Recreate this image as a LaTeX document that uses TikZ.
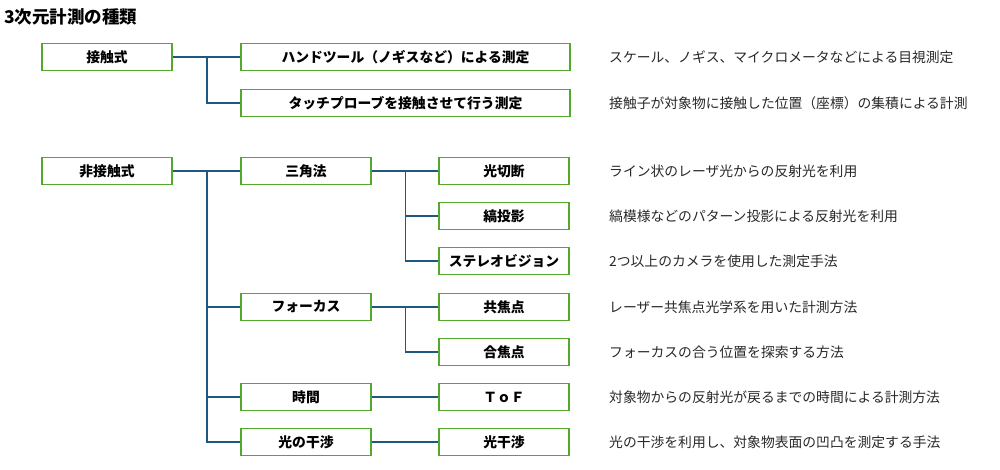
\documentclass[tikz,border=0pt]{standalone}
\usepackage{fontspec}
\setmainfont{Noto Sans CJK JP}
\usepackage{xcolor}
\definecolor{boxgreen}{RGB}{84,168,46}
\definecolor{linkblue}{RGB}{30,88,128}
\definecolor{desctext}{RGB}{40,40,40}

\begin{document}
\begin{tikzpicture}[x=1pt, y=-1pt,
    box/.style={draw=boxgreen, line width=1.4pt, fill=white, minimum width=130pt, minimum height=27pt, inner sep=0pt, font=\fontsize{13.8}{15}\selectfont\bfseries},
    widebox/.style={box, minimum width=329pt},
    desc/.style={anchor=west, inner sep=0pt, text=desctext, font=\fontsize{13.8}{15}\selectfont},
    link/.style={draw=linkblue, line width=1.3pt}]
    \useasboundingbox (0,0) rectangle (1000,470);
    % Title
    \node[anchor=west, inner sep=0pt, font=\fontsize{17.5}{19}\selectfont\bfseries] (title) at (4,17) {3次元計測の種類};
    % Nodes
    \node[box] (contact) at (107,57) {接触式};
    \node[widebox] (hand) at (405.5,57) {ハンドツール（ノギスなど）による測定};
    \node[widebox] (probe) at (405.5,103) {タッチプローブを接触させて行う測定};
    \node[box] (noncontact) at (107,171) {非接触式};
    \node[box] (triang) at (306,171) {三角法};
    \node[box] (focus) at (306,307) {フォーカス};
    \node[box] (tof) at (306,397) {時間};
    \node[box] (interf) at (306,442) {光の干渉};
    \node[box] (lightcut) at (504,171) {光切断};
    \node[box] (fringe) at (504,216) {縞投影};
    \node[box] (stereo) at (504,261) {ステレオビジョン};
    \node[box] (confocal) at (504,307) {共焦点};
    \node[box] (focusvar) at (504,352) {合焦点};
    \node[box] (tofsub) at (504,397) {ＴｏＦ};
    \node[box] (interfsub) at (504,442) {光干渉};
    % Descriptions
    \node[desc] (d1) at (609,57) {スケール、ノギス、マイクロメータなどによる目視測定};
    \node[desc] (d2) at (609,103) {接触子が対象物に接触した位置（座標）の集積による計測};
    \node[desc] (d3) at (609,171) {ライン状のレーザ光からの反射光を利用};
    \node[desc] (d4) at (609,216) {縞模様などのパターン投影による反射光を利用};
    \node[desc] (d5) at (609,261) {2つ以上のカメラを使用した測定手法};
    \node[desc] (d6) at (609,307) {レーザー共焦点光学系を用いた計測方法};
    \node[desc] (d7) at (609,352) {フォーカスの合う位置を探索する方法};
    \node[desc] (d8) at (609,397) {対象物からの反射光が戻るまでの時間による計測方法};
    \node[desc] (d9) at (609,442) {光の干渉を利用し、対象物表面の凹凸を測定する手法};
    % Junctions
    \coordinate (jcontact) at (207,57);
    \coordinate (jnon) at (207,171);
    \coordinate (jtri) at (405.5,171);
    \coordinate (jfocus) at (405.5,307);
    % Lines
    \draw[link] (contact) -- (hand);
    \draw[link] (jcontact) |- (probe.west);
    \draw[link] (noncontact) -- (triang);
    \draw[link] (jnon) |- (focus.west);
    \draw[link] (jnon) |- (tof.west);
    \draw[link] (jnon) |- (interf.west);
    \draw[link] (triang) -- (lightcut);
    \draw[link] (jtri) |- (fringe.west);
    \draw[link] (jtri) |- (stereo.west);
    \draw[link] (focus) -- (confocal);
    \draw[link] (jfocus) |- (focusvar.west);
    \draw[link] (tof) -- (tofsub);
    \draw[link] (interf) -- (interfsub);
\end{tikzpicture}
\end{document}
